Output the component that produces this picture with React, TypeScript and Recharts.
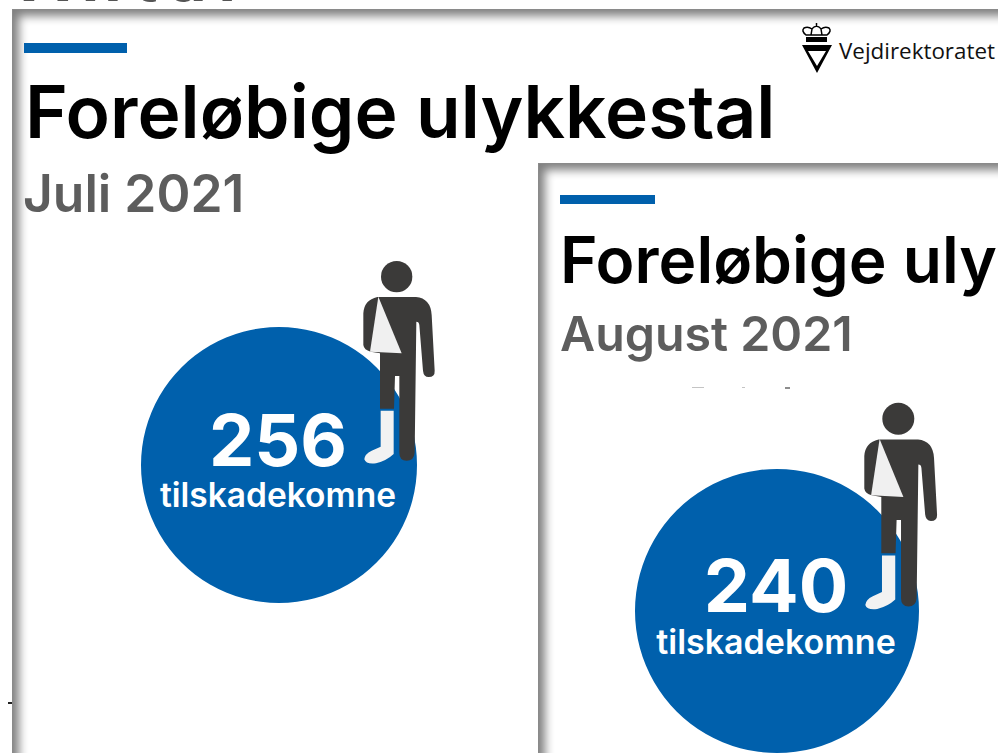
import { PieChart, Pie, Cell } from 'recharts';

const months = ['Juli 2021', 'August 2021'];
const injured = [256, 240];
const caption = 'tilskadekomne';
const title = 'Foreløbige ulykkestal';

const BLUE = '#0060ac';
const DARK = '#3b3a39';
const FONT = 'Inter, sans-serif';

function cardStyle(left: number, top: number): React.CSSProperties {
  return {
    position: 'absolute',
    left,
    top,
    width: 1100,
    height: 900,
    background: '#fff',
    borderTop: '1px solid #8a8a8a',
    borderLeft: '1px solid #8a8a8a',
    boxShadow: 'inset 10px 10px 10px -4px #808080',
  };
}

function textStyle(left: number, top: number, size: number, color: string): React.CSSProperties {
  return {
    position: 'absolute',
    left,
    top,
    fontFamily: FONT,
    fontSize: size,
    fontWeight: 600,
    lineHeight: 1,
    color,
    whiteSpace: 'nowrap',
  };
}

function circleLabel(value: number, numSize: number, capSize: number, capDy: number) {
  return (p: any) => (
    <g fontFamily={FONT} fill="#fff" textAnchor="middle">
      <text x={p.cx - 1} y={p.cy + 1} fontSize={numSize} fontWeight={700}>{value}</text>
      <text x={p.cx - 1} y={p.cy + capDy} fontSize={capSize} fontWeight={600}>{caption}</text>
    </g>
  );
}

function Person({ x, y, scale }: { x: number; y: number; scale: number }) {
  return (
    <g transform={`translate(${x} ${y}) scale(${scale})`}>
      <circle cx={170} cy={80} r={47} fill={DARK} />
      <path
        d="M112 141 L228 141 Q272 145 275 195 L284 362 Q285 381 266 381 Q251 381 249 362 L238 225 Q237 215 229 215 L224 608 Q222 632 200 632 Q178 632 178 608 L178 378 L165 378 L162 476 L120 476 L120 310 L92 305 Q72 300 70 285 L70 190 Q72 150 112 141 Z"
        fill={DARK}
      />
      <path d="M115 140 L185 310 L90 305 Z" fill="#f0f0f0" />
      <path
        d="M122 482 L161 482 L161 612 Q140 632 108 640 Q78 644 73 628 Q74 612 95 602 L122 590 Z"
        fill="#f2f2f2"
      />
    </g>
  );
}

function Logo() {
  return (
    <g>
      <path d="M802 45 L832 45 L817 73 Z M808 51 L817 66 L826 51 Z" fill="#000" fillRule="evenodd" />
      <rect x={806} y={37} width={21} height={5} fill="#000" />
      <path
        d="M806 35 Q801 31 804 28 Q808 26 812 29 Q813 27 816.500 26 Q820 27 821 29 Q825 26 829 28 Q832 31 827 35 Z M812 29 L811 35 M821 29 L822 35 M816.500 26 L816.500 23"
        fill="none"
        stroke="#000"
        strokeWidth={1.5}
      />
      <text x={839} y={59} fontFamily="'Open Sans', sans-serif" fontSize={22.400} fill="#111">Vejdirektoratet</text>
    </g>
  );
}

export default function App() {
  return (
    <div style={{ position: 'absolute', left: 0, top: 0, width: 998, height: 753, overflow: 'hidden', background: '#fff' }}>
      {/* cropped heading from the slide behind */}
      <div style={{ ...textStyle(22, -54, 64, '#555'), fontWeight: 700, letterSpacing: 12 }}>Antal</div>
      <div style={{ position: 'absolute', left: 8, top: 702, width: 4, height: 2, background: '#222' }} />

      <div style={cardStyle(12, 9)}>
        <div style={{ position: 'absolute', left: 11, top: 33, width: 103, height: 10, background: BLUE }} />
        <div style={textStyle(12, 65, 73, '#000')}>{title}</div>
        <div style={textStyle(10, 158, 51.500, '#5d5d5d')}>{months[0]}</div>
      </div>

      <div style={cardStyle(538, 163)}>
        <div style={{ position: 'absolute', left: 21, top: 31, width: 95, height: 9, background: BLUE }} />
        <div style={textStyle(21, 64, 64, '#000')}>{title}</div>
        <div style={textStyle(21, 146, 48.300, '#5d5d5d')}>{months[1]}</div>
        {/* slivers of the cropped line under the month */}
        <div style={{ position: 'absolute', left: 153, top: 223, width: 12, height: 1, background: '#c4c4c4' }} />
        <div style={{ position: 'absolute', left: 203, top: 223, width: 3, height: 1, background: '#c4c4c4' }} />
        <div style={{ position: 'absolute', left: 246, top: 223, width: 5, height: 2, background: '#8d8d8d' }} />
      </div>

      <div style={{ position: 'absolute', left: 0, top: 0 }}>
        <PieChart width={998} height={753} margin={{ top: 0, right: 0, bottom: 0, left: 0 }}>
          <Pie
            data={[{ name: months[0], value: injured[0] }]}
            dataKey="value"
            cx={279}
            cy={465}
            innerRadius={0}
            outerRadius={138}
            startAngle={90}
            endAngle={-270}
            stroke="none"
            labelLine={false}
            label={circleLabel(injured[0], 72, 33.500, 42)}
            isAnimationActive={false}
          >
            <Cell fill={BLUE} />
          </Pie>
          <Pie
            data={[{ name: months[1], value: injured[1] }]}
            dataKey="value"
            cx={777}
            cy={611}
            innerRadius={0}
            outerRadius={142}
            startAngle={90}
            endAngle={-270}
            stroke="none"
            labelLine={false}
            label={circleLabel(injured[1], 73.500, 34, 43)}
            isAnimationActive={false}
          >
            <Cell fill={BLUE} />
          </Pie>
        </PieChart>
      </div>

      <svg width={998} height={753} style={{ position: 'absolute', left: 0, top: 0 }}>
        <Person x={340} y={250} scale={1 / 3} />
        <Person x={840.500} y={391.500} scale={0.34} />
        <Logo />
      </svg>
    </div>
  );
}
